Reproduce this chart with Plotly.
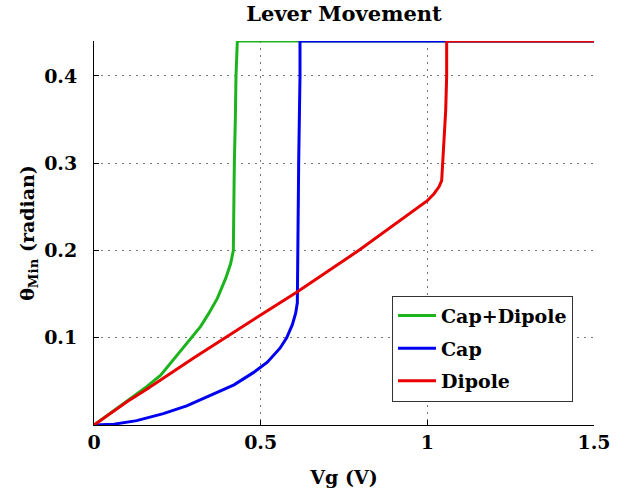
import plotly.graph_objects as go

# ---- data ----
capdip_x = [0, 0.05, 0.088, 0.12, 0.158, 0.2, 0.228, 0.26, 0.293, 0.32, 0.343, 0.37, 0.395, 0.41, 0.418,
            0.419, 0.421, 0.424, 0.426, 0.43, 1.5]
capdip_y = [0, 0.014, 0.025, 0.034, 0.044, 0.057, 0.070, 0.085, 0.100, 0.113, 0.127, 0.145, 0.168, 0.185, 0.2,
            0.25, 0.3, 0.35, 0.4, 0.44, 0.44]

cap_x = [0, 0.06, 0.128, 0.208, 0.278, 0.358, 0.42, 0.478, 0.52, 0.558, 0.578, 0.595, 0.605, 0.61,
         0.611, 0.614, 0.618, 0.618, 1.5]
cap_y = [0, 0.001, 0.005, 0.013, 0.022, 0.035, 0.046, 0.060, 0.072, 0.088, 0.100, 0.115, 0.128, 0.14,
         0.2, 0.3, 0.4, 0.44, 0.44]

dip_x = [0, 0.1, 0.158, 0.3, 0.5, 0.608, 0.798, 1.0, 1.02, 1.035, 1.043, 1.046, 1.05, 1.055, 1.058, 1.058, 1.5]
dip_y = [0, 0.027, 0.041, 0.077, 0.126, 0.152, 0.201, 0.257, 0.265, 0.273, 0.28, 0.3, 0.33, 0.36, 0.4, 0.44, 0.44]

series_names = ["Cap+Dipole", "Cap", "Dipole"]
series_colors = ["#1db31d", "#0000f0", "#e80000"]

x_ticks = [0, 0.5, 1, 1.5]
x_tick_text = ["0", "0.5", "1", "1.5"]
y_ticks = [0.1, 0.2, 0.3, 0.4]
y_tick_text = ["0.1", "0.2", "0.3", "0.4"]

FONT = "DejaVu Serif"

fig = go.Figure()
for name, xs, ys, col in zip(series_names, [capdip_x, cap_x, dip_x], [capdip_y, cap_y, dip_y], series_colors):
    fig.add_trace(go.Scatter(x=xs, y=ys, mode="lines", name=name, legendgroup=name,
                             line=dict(color=col, width=3)))

axis_common = dict(
    showline=True, linecolor="black", linewidth=1, mirror=False,
    ticks="inside", ticklen=5, tickcolor="black", tickwidth=1,
    showgrid=True, gridcolor="#777777", griddash="2px,5px", gridwidth=1,
    zeroline=False,
    tickfont=dict(family=FONT, size=19, color="black", weight="bold"),
)

fig.update_layout(
    width=627, height=499,
    margin=dict(l=94, r=33, t=41, b=74),
    paper_bgcolor="white", plot_bgcolor="white",
    title=dict(text="Lever Movement", x=0.5, xanchor="center", xref="paper",
               y=0.972, yanchor="middle",
               font=dict(family=FONT, size=21, color="black", weight="bold")),
    xaxis=dict(range=[0, 1.5], tickvals=x_ticks, ticktext=x_tick_text,
               title=dict(text="Vg (V)", standoff=18,
                          font=dict(family=FONT, size=19, color="black", weight="bold")),
               **axis_common),
    yaxis=dict(range=[0, 0.44], tickvals=y_ticks, ticktext=y_tick_text,
               ticklabelstandoff=12,
               title=dict(text="θ<sub>Min</sub> (radian)", standoff=4,
                          font=dict(family=FONT, size=19, color="black", weight="bold")),
               **axis_common),
    legend=dict(x=0.596, y=0.337, xanchor="left", yanchor="top",
                bgcolor="white", bordercolor="#333333", borderwidth=1,
                traceorder="grouped", tracegroupgap=5, itemwidth=38,
                font=dict(family=FONT, size=19, color="black", weight="bold")),
    showlegend=True,
)

fig.write_html("out.html", config={"displayModeBar": False},
               post_script="document.body.style.margin='0';")
